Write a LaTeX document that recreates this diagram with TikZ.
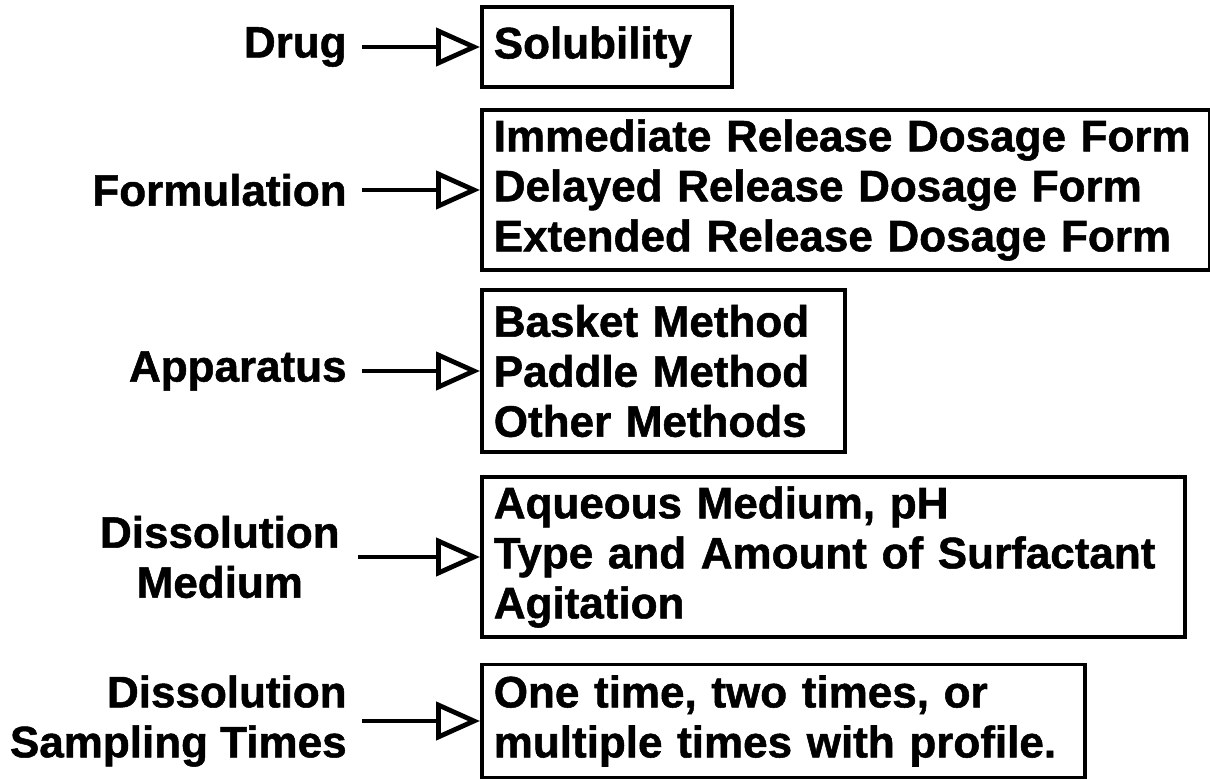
\documentclass[tikz,border=0pt]{standalone}
\usepackage{fontspec}
\setmainfont[BoldFeatures={FakeBold=1.2}]{Liberation Sans}
\usetikzlibrary{arrows.meta}

\begin{document}
\begin{tikzpicture}[x=0.5pt, y=-0.5pt,
  every node/.style={font=\bfseries\fontsize{22}{25}\selectfont},
  item/.style={draw, line width=1.8pt, anchor=west, align=left, inner xsep=6pt, inner ysep=0pt},
  cause/.style={anchor=east, align=right, inner sep=0pt},
  feed/.style={line width=2pt, shorten <=7.5pt,
    -{Triangle[open, length=22pt, width=19pt, line width=2.4pt]}}]
  \useasboundingbox (0,0) rectangle (1210,780);
  % boxes on the right
  \node[item, text width=113pt, minimum height=40pt] (solub) at (480,47) {Solubility};
  \node[item, text width=352pt, minimum height=80pt] (form) at (480,190)
    {Immediate Release Dosage Form\\Delayed Release Dosage Form\\Extended Release Dosage Form};
  \node[item, text width=169.5pt, minimum height=81pt] (appar) at (480,371)
    {Basket Method\\Paddle Method\\Other Methods};
  \node[item, text width=339.5pt, minimum height=80pt] (medium) at (480,557)
    {Aqueous Medium, pH\\Type and Amount of Surfactant\\Agitation};
  \node[item, text width=289.5pt, minimum height=56.5pt] (times) at (480,721)
    {One time, two times, or\\multiple times with profile.};
  % factors on the left
  \node[cause] (drug) at (347,47) {Drug};
  \node[cause] (formul) at (347,190) {Formulation};
  \node[cause] (apparatus) at (347,371) {Apparatus};
  \node[cause, align=center] (dissmed) at (340,557) {Dissolution\\Medium};
  \node[cause] (disstime) at (347,721) {Dissolution\\Sampling Times};
  % arrows
  \draw[feed] (drug.east) -- (solub.west);
  \draw[feed] (formul.east) -- (form.west);
  \draw[feed] (apparatus.east) -- (appar.west);
  \draw[feed, shorten <=9pt] (dissmed.east) -- (medium.west);
  \draw[feed] (disstime.east) -- (times.west);
\end{tikzpicture}
\end{document}
